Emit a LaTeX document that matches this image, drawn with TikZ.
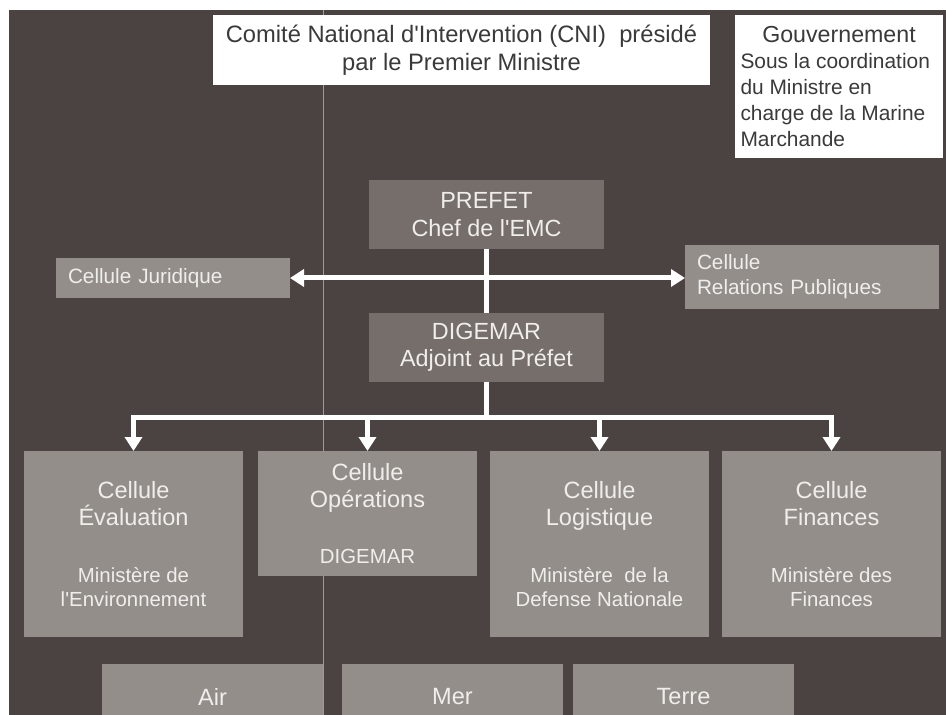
\documentclass[tikz,border=0pt]{standalone}
\usepackage{fontspec}
\setmainfont{Liberation Sans}
\usetikzlibrary{positioning, arrows.meta}

\definecolor{bgdark}{RGB}{74,67,65}
\definecolor{boxgray}{RGB}{148,142,138}
\definecolor{headgray}{RGB}{118,110,106}
\definecolor{inkdark}{RGB}{58,58,58}
\definecolor{inklight}{RGB}{240,238,236}
\definecolor{guidegray}{RGB}{160,155,151}

\newcommand{\minfont}{\fontsize{11.6}{13.6}\selectfont}
\newcommand{\apos}{\textquotesingle}

\begin{document}
\begin{tikzpicture}[
				node distance = 0pt,
				every node/.style = {inner sep=0pt, outer sep=0pt},
				whitebox/.style = {fill=white, text=inkdark},
				chefbox/.style = {fill=headgray, text=inklight, align=center, minimum width=4.7cm, minimum height=1.38cm, font=\fontsize{13.3}{15.5}\selectfont},
				sidebox/.style = {fill=boxgray, text=inklight, align=left, inner xsep=0.24cm, font=\fontsize{11.8}{14.2}\selectfont},
				cellbox/.style = {fill=boxgray, text=inklight, align=center, minimum width=4.38cm, minimum height=3.72cm, font=\fontsize{13.4}{15.5}\selectfont},
				zonebox/.style = {fill=boxgray, text=inklight, minimum width=4.42cm, minimum height=1.32cm, font=\fontsize{13.4}{15.5}\selectfont},
				link/.style = {draw=white, line width=1mm},
				arrow/.style = {link, -{Triangle[width=3.4mm, length=2.8mm]}}
			]
				\useasboundingbox (0,0) rectangle (18.92,-14.3);
				\clip (0,0) rectangle (18.92,-14.3);
				\fill[white] (0,0) rectangle (18.92,-14.3);
				\fill[bgdark] (0.18,-0.2) rectangle (18.92,-14.3);
				\draw[guidegray, line width=0.5pt] (6.46,-0.2) -- (6.46,-14.3);
				%
				\node (cni) [whitebox, align=center, minimum width=9.94cm, minimum height=1.4cm,
					font=\fontsize{13.5}{15.8}\selectfont] at (9.23,-1.0)
					{Comité National d\apos Intervention (CNI)~ présidé\\par le Premier Ministre};
				\node (gouv) [whitebox, align=flush left, text width=3.94cm, inner xsep=0.11cm, minimum height=2.86cm,
					font=\fontsize{11.9}{14.7}\selectfont] at (16.78,-1.73)
					{\makebox[\linewidth][c]{\fontsize{13.2}{15}\selectfont Gouvernement}\\Sous la coordination\\du Ministre en\\charge de la Marine\\Marchande};
				%
				\node (prefet) [chefbox] at (9.73,-4.29) {PREFET\\Chef de l\apos EMC};
				\node (digemar) [chefbox, below=1.28cm of prefet] {DIGEMAR\\Adjoint au Préfet};
				%
				\node (jur) [sidebox, text width=4.2cm, minimum height=0.8cm] at (3.46,-5.56) {Cellule Juridique};
				\node (rel) [sidebox, text width=4.6cm, minimum height=1.28cm] at (16.24,-5.54) {Cellule\\Relations Publiques};
				%
				\node (eval) [cellbox, anchor=north west] at (0.48,-9.02)
					{Cellule\\Évaluation\\[17pt]\minfont Ministère de\\[-2pt]\minfont l\apos Environnement};
				\node (oper) [cellbox, minimum height=2.5cm, right=0.3cm of eval.north east, anchor=north west]
					{Cellule\\Opérations\\[16pt]\minfont DIGEMAR};
				\node (logi) [cellbox, right=0.26cm of oper.north east, anchor=north west]
					{Cellule\\Logistique\\[17pt]\minfont Ministère~ de la\\[-2pt]\minfont Defense Nationale};
				\node (fin) [cellbox, right=0.26cm of logi.north east, anchor=north west]
					{Cellule\\Finances\\[17pt]\minfont Ministère des\\[-2pt]\minfont Finances};
				%
				\node (air) [zonebox, anchor=north west] at (2.04,-13.28) {Air};
				\node (mer) [zonebox, right=0.38cm of air.north east, anchor=north west] {Mer};
				\node (terre) [zonebox, right=0.2cm of mer.north east, anchor=north west] {Terre};
				%
				\draw[link] (prefet.south) -- (digemar.north);
				\coordinate (hub) at (prefet.south |- jur.east);
				\draw[arrow] (hub) -- (jur.east);
				\draw[arrow] (hub) -- (hub -| rel.west);
				%
				\coordinate[below=0.7cm of digemar.south] (bus);
				\draw[link] (digemar.south) -- (bus);
				\draw[link, line cap=rect] (eval.north |- bus) -- (fin.north |- bus);
				\foreach \c in {eval, oper, logi, fin}
					\draw[arrow] (\c.north |- bus) -- (\c.north);

			\end{tikzpicture}
\end{document}
